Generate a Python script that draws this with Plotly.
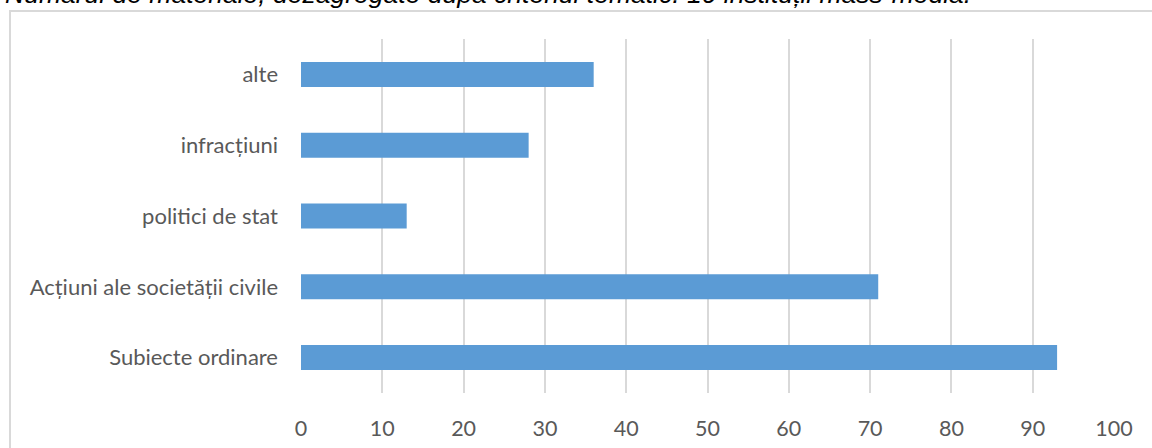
import plotly.graph_objects as go

categories = ["Subiecte ordinare", "Acțiuni ale societății civile", "politici de stat", "infracțiuni", "alte"]
values = [93, 71, 13, 28, 36]
x_ticks = [0, 10, 20, 30, 40, 50, 60, 70, 80, 90, 100]
title_text = "Numărul de materiale, dezagregate după criteriul tematic. 10 instituții mass-media."

W, H = 1152, 448
L, R, T, B = 301, 38, 39, 55
pw, ph = W - L - R, H - T - B

def px(xp):
    return (xp - L) / pw

def py(yp):
    return (H - B - yp) / ph

fig = go.Figure(go.Bar(
    y=categories, x=values, orientation="h",
    marker=dict(color="#5b9bd5", line=dict(width=0)),
))

fig.update_layout(
    width=W, height=H,
    margin=dict(l=L, r=R, t=T, b=B, autoexpand=False),
    paper_bgcolor="white", plot_bgcolor="white",
    bargap=0.647,
    showlegend=False,
    font=dict(family="Lato, Open Sans, sans-serif", color="#595959", size=22),
    xaxis=dict(range=[0, 100], tickvals=x_ticks, showgrid=True, gridcolor="#d9d9d9",
               gridwidth=1.5, zeroline=False, showline=False, ticks="",
               ticklabelstandoff=20, tickfont=dict(size=21.5, color="#595959")),
    yaxis=dict(categoryorder="array", categoryarray=categories, showgrid=False,
               zeroline=False, showline=False, ticks="", ticklabelstandoff=22,
               tickfont=dict(size=22, color="#595959")),
    shapes=[
        dict(type="line", xref="paper", yref="paper", x0=px(9), x1=px(1160), y0=py(11), y1=py(11),
             line=dict(color="#d9d9d9", width=2)),
        dict(type="line", xref="paper", yref="paper", x0=px(10), x1=px(10), y0=py(11), y1=py(460),
             line=dict(color="#d9d9d9", width=2)),
    ],
    annotations=[
        dict(text="<i>" + title_text + "</i>", xref="paper", yref="paper", x=px(3), y=py(-5.5),
             xanchor="left", yanchor="middle", showarrow=False,
             font=dict(family="Liberation Sans, Arial, sans-serif", size=26.5, color="#000000")),
    ],
)

fig.write_html("out.html", config={"displayModeBar": False},
               post_script="document.body.style.margin='0';document.body.style.overflow='hidden';")
